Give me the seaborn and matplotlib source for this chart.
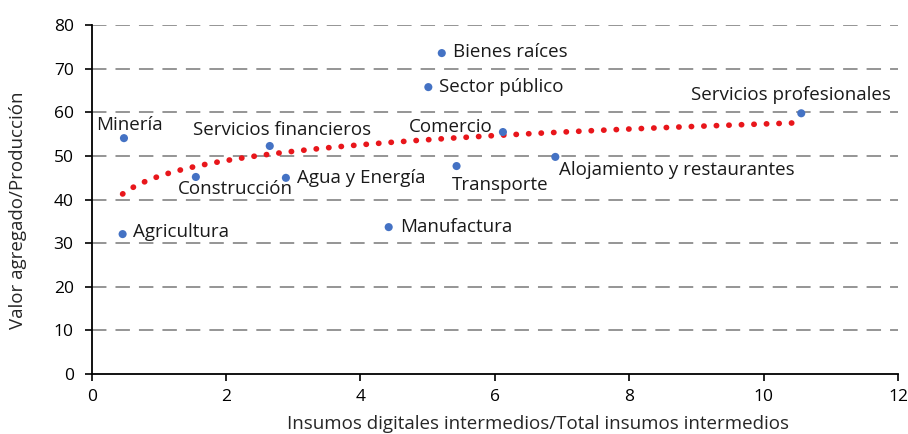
import numpy as np
import pandas as pd
import seaborn as sns
import matplotlib.pyplot as plt

# Data
sectores = ["Minería", "Agricultura", "Construcción", "Servicios financieros",
            "Agua y Energía", "Manufactura", "Bienes raíces", "Sector público",
            "Transporte", "Comercio", "Alojamiento y restaurantes",
            "Servicios profesionales"]
insumos_digitales = [0.48, 0.46, 1.55, 2.65, 2.89, 4.42, 5.21, 5.01, 5.43, 6.12, 6.90, 10.56]
valor_agregado = [54.1, 32.1, 45.2, 52.3, 45.0, 33.7, 73.6, 65.8, 47.7, 55.5, 49.8, 59.8]

# label offsets in pixels (dx, dy, ha)
offsets = {
    "Minería": (5, 13, "center"),
    "Agricultura": (10, 2, "left"),
    "Construcción": (-18, -12, "left"),
    "Servicios financieros": (12, 16, "center"),
    "Agua y Energía": (11, 0, "left"),
    "Manufactura": (11, 0, "left"),
    "Bienes raíces": (11, 1, "left"),
    "Sector público": (11, 0, "left"),
    "Transporte": (-5, -19, "left"),
    "Comercio": (-10, 5, "right"),
    "Alojamiento y restaurantes": (4, -13, "left"),
    "Servicios profesionales": (-10, 18, "center"),
}

df = pd.DataFrame({"sector": sectores, "x": insumos_digitales, "y": valor_agregado})

sns.set_style("white")
plt.rcParams["font.family"] = ["Open Sans", "DejaVu Sans"]

fig = plt.figure(figsize=(9.08, 4.34), dpi=100)
ax = fig.add_axes([0.101, 0.138, 0.888, 0.804])

# logarithmic trend line (like the spreadsheet trendline)
b, a = np.polyfit(np.log(df["x"]), df["y"], 1)
xs = np.linspace(df["x"].min(), df["x"].max(), 200)
ax.plot(xs, a + b * np.log(xs), color="#E8161B", linewidth=4.1,
        linestyle=(0, (0.05, 2.15)), dash_capstyle="round", zorder=2)

sns.scatterplot(data=df, x="x", y="y", ax=ax, color="#4472C4", s=34,
                edgecolor="none", zorder=3)

for _, r in df.iterrows():
    dx, dy, ha = offsets[r["sector"]]
    ax.annotate(r["sector"], (r["x"], r["y"]), xytext=(dx, dy),
                textcoords="offset pixels", ha=ha, va="center",
                fontsize=13.5, color="#1a1a1a")

ax.set_xlim(0, 12)
ax.set_ylim(0, 80)
ax.set_xticks(range(0, 13, 2))
ax.set_yticks(range(0, 81, 10))
for yv in range(10, 81, 10):
    ax.axhline(yv, color="#8c8c8c", linewidth=1.3, linestyle=(0, (8, 5)), zorder=1)

ax.spines["top"].set_visible(False)
ax.spines["right"].set_visible(False)
ax.spines["left"].set_color("black")
ax.spines["bottom"].set_color("black")
ax.spines["left"].set_linewidth(1.3)
ax.spines["bottom"].set_linewidth(1.3)
ax.tick_params(axis="both", direction="out", length=5, width=1.2,
               labelsize=12.5, colors="black", bottom=True, left=True)
ax.tick_params(axis="x", pad=6)
ax.tick_params(axis="y", pad=8)

ax.set_xlabel("Insumos digitales intermedios/Total insumos intermedios",
              fontsize=13.5)
ax.set_ylabel("Valor agregado/Producción", fontsize=13.5)
ax.xaxis.set_label_coords(0.553, -0.118)
ax.yaxis.set_label_coords(-0.08, 0.47)

fig.savefig("out.png", dpi=100)
